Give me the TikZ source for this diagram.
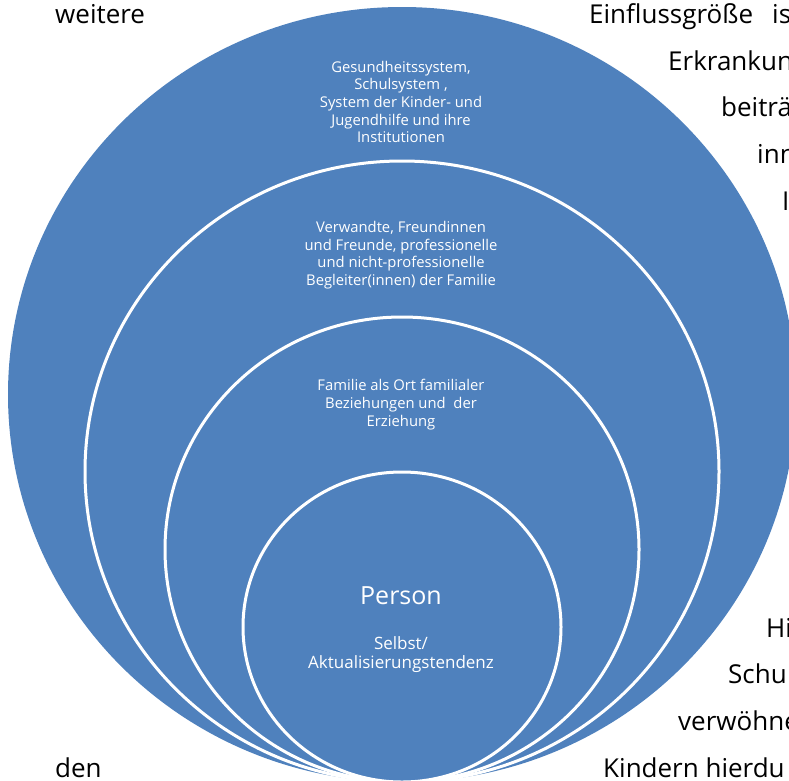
\documentclass[tikz,border=0pt]{standalone}
\usepackage{fontspec}
\setmainfont{Open Sans}
\definecolor{ringblue}{RGB}{79,129,189}
\begin{document}
\begin{tikzpicture}[x=1pt,y=-1pt,
  ring/.style={fill=ringblue, draw=white, line width=3pt},
  bgtext/.style={anchor=base west, inner sep=0pt, font=\fontsize{26}{30}\selectfont, text=black},
  wtext/.style={align=center, text=white, inner sep=0pt, font=\fontsize{14.8}{17.7}\selectfont}]
\useasboundingbox (0,0) rectangle (789,780);
\clip (0,0) rectangle (789,780);
% background text fragments
\node[bgtext] (t1) at (55,23) {weitere};
\node[bgtext] (t2) at (589,23) {Einflussgröße};
\node[bgtext] (t2b) at (772,23) {is};
\node[bgtext] (t3) at (668,70) {Erkrankun};
\node[bgtext] (t4) at (721,116) {beiträ};
\node[bgtext] (t5) at (757,163) {inn};
\node[bgtext] (t6) at (782,210) {I};
\node[bgtext] (t7) at (766,637) {Hi};
\node[bgtext] (t8) at (728,683) {Schu};
\node[bgtext] (t9) at (678,730) {verwöhne};
\node[bgtext] (t10) at (603,777) {Kindern hierdu};
\node[bgtext] (t11) at (55,777) {den};
% rings
\fill[ringblue] (402,394.5) ellipse [x radius=394, y radius=387.5];
\draw[ring] (402,471.5) ellipse [x radius=317, y radius=310.5];
\draw[ring] (402,549.5) ellipse [x radius=237, y radius=232.5];
\draw[ring] (402,627) ellipse [x radius=159, y radius=155];
% labels
\node[wtext] (l1) at (401,102) {Gesundheitssystem,\\Schulsystem ,\\System der Kinder- und\\Jugendhilfe und ihre\\Institutionen};
\node[wtext] (l2) at (401,255) {Verwandte, Freundinnen\\und Freunde, professionelle\\und nicht-professionelle\\Begleiter(innen) der Familie};
\node[wtext] (l3) at (401,404.5) {Familie als Ort familialer\\Beziehungen und\ \ der\\Erziehung};
\node[anchor=base, inner sep=0pt, text=white, font=\fontsize{25}{30}\selectfont] (p) at (401,604) {Person};
\node[wtext, font=\fontsize{17}{19.5}\selectfont] (l4) at (401,654.5) {Selbst/\\Aktualisierungstendenz};
\end{tikzpicture}
\end{document}
